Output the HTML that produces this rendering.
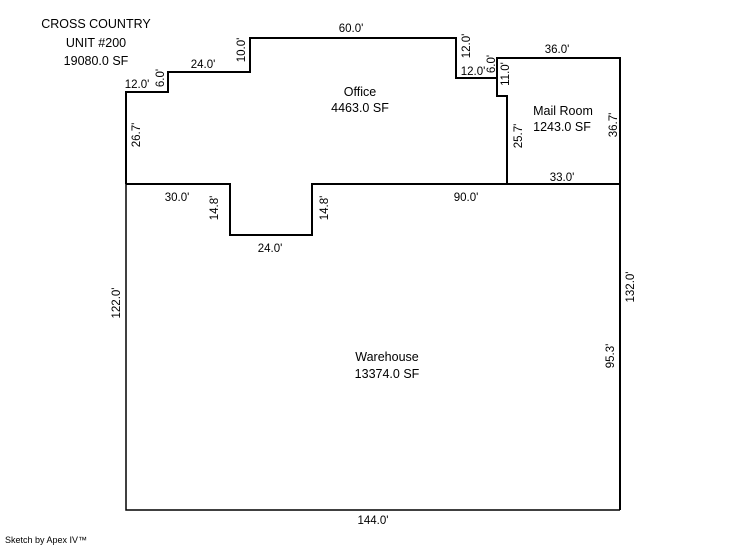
<!DOCTYPE html>
<html><head><meta charset="utf-8"><style>
html,body{margin:0;padding:0;background:#fff;}
svg{display:block;}
text{font-family:"Liberation Sans",Arial,sans-serif;font-size:11.5px;fill:#000;}
.b{font-size:12.5px;}
</style></head><body>
<svg width="746" height="547" viewBox="0 0 746 547" xmlns="http://www.w3.org/2000/svg">
<g fill="none" stroke="#000" stroke-width="2">
<polyline points="126,184 126,92 168,92 168,72 250,72 250,38 456,38 456,78 497,78 497,96 507,96 507,184"/>
<polyline points="497,78 497,58 620,58 620,510"/>
<polyline points="126,184 230,184 230,235 312,235 312,184 620,184"/>
<polyline points="126,184 126,510 620,510" stroke-width="1.5"/>
</g>
<g text-anchor="middle">
<text x="96" y="28" class="b">CROSS COUNTRY</text>
<text x="96" y="47" class="b">UNIT #200</text>
<text x="96" y="65" class="b">19080.0 SF</text>
<text x="137" y="88">12.0'</text>
<text x="203" y="68">24.0'</text>
<text x="351" y="32">60.0'</text>
<text x="473" y="75">12.0'</text>
<text x="557" y="53">36.0'</text>
<text x="360" y="96" class="b">Office</text>
<text x="360" y="112" class="b">4463.0 SF</text>
<text x="563" y="115" class="b">Mail Room</text>
<text x="562" y="131" class="b">1243.0 SF</text>
<text x="562" y="181">33.0'</text>
<text x="177" y="201">30.0'</text>
<text x="270" y="252">24.0'</text>
<text x="466" y="201">90.0'</text>
<text x="387" y="361" class="b">Warehouse</text>
<text x="387" y="378" class="b">13374.0 SF</text>
<text x="373" y="524">144.0'</text>
<text transform="translate(164,78) rotate(-90)">6.0'</text>
<text transform="translate(245,50) rotate(-90)">10.0'</text>
<text transform="translate(470,46) rotate(-90)">12.0'</text>
<text transform="translate(495,64) rotate(-90)">6.0'</text>
<text transform="translate(509,74) rotate(-90)">11.0'</text>
<text transform="translate(140,135) rotate(-90)">26.7'</text>
<text transform="translate(522,136) rotate(-90)">25.7'</text>
<text transform="translate(617,125) rotate(-90)">36.7'</text>
<text transform="translate(218,208) rotate(-90)">14.8'</text>
<text transform="translate(328,208) rotate(-90)">14.8'</text>
<text transform="translate(120,303) rotate(-90)">122.0'</text>
<text transform="translate(634,287) rotate(-90)">132.0'</text>
<text transform="translate(614,356) rotate(-90)">95.3'</text>
</g>
<text x="5" y="543" style="font-size:9px">Sketch by Apex IV™</text>
</svg>
</body></html>
